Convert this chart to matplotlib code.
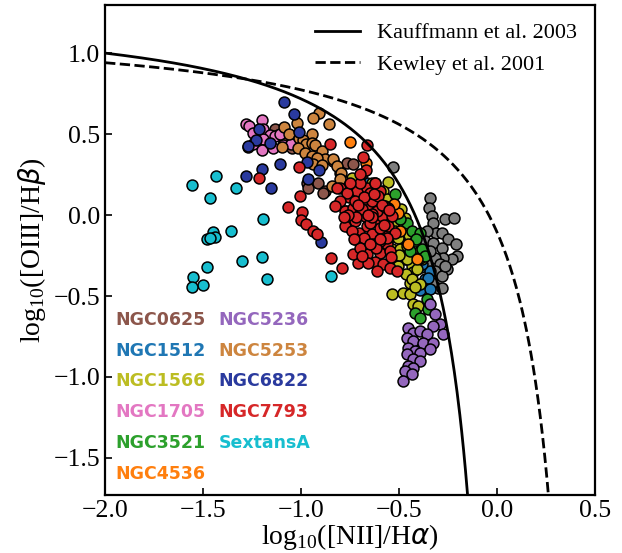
import numpy as np
import matplotlib
matplotlib.use("Agg")
import matplotlib.pyplot as plt

plt.rcParams['font.family'] = ['Liberation Serif', 'DejaVu Serif']
plt.rcParams['mathtext.fontset'] = 'custom'
plt.rcParams['mathtext.rm'] = 'Liberation Serif'
plt.rcParams['mathtext.it'] = 'DejaVu Sans:italic'

# ---- data (log10 [NII]/Ha, log10 [OIII]/Hb) ----
ngc0625_x = [-1.133, -1.082, -1.046, -0.969, -0.964, -0.913, -0.878, -0.801, -0.765, -0.735, -0.837, -0.888]
ngc0625_y = [0.536, 0.449, 0.418, 0.202, 0.171, 0.202, 0.152, 0.264, 0.325, 0.319, 0.338, 0.140]

ngc1512_x = [-0.663, -0.485, -0.388, -0.342, -0.367, -0.393, -0.383, -0.352, -0.342, -0.418]
ngc1512_y = [0.196, -0.139, -0.318, -0.343, -0.392, -0.460, -0.299, -0.386, -0.454, -0.269]

ngc1566_x = [-0.740, -0.556, -0.638, -0.587, -0.633, -0.587, -0.546, -0.556, -0.505, -0.536,
             -0.495, -0.454, -0.393, -0.418, -0.531, -0.469, -0.383, -0.434, -0.602, -0.541,
             -0.510, -0.480, -0.459, -0.505, -0.459, -0.429, -0.444, -0.500, -0.464, -0.434,
             -0.393, -0.536, -0.480, -0.444, -0.429, -0.403, -0.418, -0.582, -0.582, -0.393,
             -0.470, -0.520, -0.560, -0.450, -0.490, -0.410]
ngc1566_y = [0.233, 0.208, 0.196, 0.140, 0.078, 0.022, -0.046, -0.145, -0.139, -0.207,
             -0.207, -0.170, -0.219, -0.262, -0.281, -0.269, -0.269, -0.312, 0.072, -0.015,
             -0.052, -0.077, -0.188, -0.312, -0.274, -0.349, -0.417, -0.244, -0.361, -0.392,
             -0.423, -0.485, -0.479, -0.485, -0.547, -0.560, -0.442, 0.152, 0.028, -0.262,
             -0.020, -0.100, 0.100, -0.120, 0.040, -0.330]

ngc1705_x = [-1.199, -1.281, -1.265, -1.245, -1.194, -1.158, -1.117, -1.194, -1.270, -1.245,
             -1.199, -1.143, -1.092, -1.051, -1.133, -1.107]
ngc1705_y = [0.591, 0.561, 0.549, 0.511, 0.530, 0.499, 0.499, 0.474, 0.424, 0.443,
             0.406, 0.418, 0.431, 0.443, 0.492, 0.505]

ngc3521_x = [-0.520, -0.459, -0.434, -0.418, -0.393, -0.383, -0.444, -0.495, -0.413, -0.357,
             -0.352, -0.418, -0.393, -0.367]
ngc3521_y = [0.134, -0.046, -0.095, -0.157, -0.108, -0.207, -0.219, -0.021, -0.145, -0.517,
             -0.578, -0.603, -0.634, -0.250]

ngc4536_x = [-0.750, -0.668, -0.750, -0.505, -0.525, -0.495, -0.454, -0.408, -0.740]
ngc4536_y = [0.455, 0.325, -0.077, 0.016, 0.072, -0.095, -0.176, -0.269, 0.165]

ngc5236_x = [-0.342, -0.316, -0.291, -0.327, -0.454, -0.429, -0.393, -0.357, -0.459, -0.429,
             -0.378, -0.327, -0.454, -0.418, -0.393, -0.342, -0.459, -0.429, -0.393, -0.454,
             -0.429, -0.469, -0.434, -0.480, -0.276]
ngc5236_y = [-0.548, -0.610, -0.672, -0.684, -0.696, -0.727, -0.715, -0.733, -0.757, -0.776,
             -0.789, -0.789, -0.820, -0.839, -0.851, -0.826, -0.858, -0.889, -0.900, -0.930,
             -0.943, -0.962, -0.981, -1.024, -0.733]

ngc5253_x = [-0.908, -0.939, -0.857, -1.020, -1.087, -1.061, -1.010, -0.944, -0.990, -0.974,
             -0.944, -1.015, -0.929, -1.097, -0.980, -0.944, -0.893, -0.878, -0.837, -0.918,
             -0.939, -0.893, -0.816, -0.796, -0.786, -0.842, -0.801]
ngc5253_y = [0.629, 0.598, 0.567, 0.573, 0.548, 0.505, 0.480, 0.505, 0.468, 0.443,
             0.449, 0.418, 0.431, 0.424, 0.387, 0.369, 0.400, 0.350, 0.350, 0.356,
             0.319, 0.313, 0.307, 0.264, 0.214, 0.183, 0.226]

ngc6822_x = [-1.087, -1.036, -1.214, -1.230, -1.158, -1.270, -1.010, -1.107, -1.199, -1.281,
             -1.153, -0.969, -0.908, -0.964, -0.658, -0.556, -0.898]
ngc6822_y = [0.697, 0.623, 0.530, 0.462, 0.449, 0.425, 0.517, 0.319, 0.288, 0.245,
             0.171, 0.332, 0.282, 0.226, 0.152, 0.047, -0.163]

ngc7793_x = [-1.214, -1.010, -1.005, -1.066, -0.995, -1.000, -0.974, -0.939, -0.918, -0.847,
             -0.791, -0.770, -0.801, -0.755, -0.714, -0.663, -0.622, -0.597, -0.776, -0.735,
             -0.699, -0.663, -0.750, -0.704, -0.663, -0.638, -0.612, -0.587, -0.673, -0.633,
             -0.597, -0.622, -0.663, -0.561, -0.571, -0.556, -0.689, -0.638, -0.612, -0.582,
             -0.546, -0.612, -0.709, -0.510, -0.638, -0.735, -0.684, -0.689, -0.663, -0.622,
             -0.816, -0.765, -0.699, -0.852, -0.668, -0.699, -0.724, -0.673, -0.648, -0.724,
             -0.776, -0.597, -0.546, -0.658, -0.571, -0.536, -0.520, -0.801, -0.827, -0.724,
             -0.648, -0.750,
             -0.690, -0.640, -0.600, -0.560, -0.720, -0.680, -0.620, -0.580, -0.540, -0.700,
             -0.650, -0.610, -0.570, -0.760, -0.740, -0.680, -0.630, -0.590, -0.550, -0.710,
             -0.660, -0.600, -0.780, -0.730, -0.690]
ngc7793_y = [0.233, 0.295, 0.121, 0.053, 0.022, -0.028, -0.052, -0.095, -0.114, -0.263,
             -0.324, 0.028, 0.171, 0.115, 0.152, 0.171, 0.196, 0.152, 0.028, 0.047,
             0.010, 0.059, -0.046, -0.108, -0.064, -0.114, -0.033, -0.002, -0.176, -0.176,
             -0.231, -0.287, -0.238, -0.176, -0.114, -0.064, 0.090, 0.090, 0.028, -0.299,
             -0.324, -0.343, -0.293, -0.343, 0.010, -0.238, 0.357, 0.257, 0.431, 0.202,
             0.171, 0.140, 0.202, 0.443, 0.282, 0.257, -0.033, -0.002, -0.046, -0.145,
             -0.064, -0.157, -0.219, -0.293, 0.059, -0.002, -0.108, 0.090, 0.059, 0.090,
             0.140, 0.196,
             0.040, -0.010, -0.080, -0.140, -0.010, -0.140, -0.200, -0.060, -0.260, -0.200,
             -0.180, 0.120, 0.050, 0.000, -0.100, 0.110, 0.130, 0.060, 0.030, 0.060,
             0.000, -0.150, -0.010, -0.150, -0.250]

sextansa_x = [-1.556, -1.434, -1.464, -1.332, -1.194, -1.357, -1.449, -1.480, -1.439, -1.464,
              -1.301, -1.199, -1.480, -1.551, -1.500, -1.556, -1.173, -0.847]
sextansa_y = [0.189, 0.245, 0.109, 0.171, -0.021, -0.095, -0.101, -0.145, -0.132, -0.139,
              -0.281, -0.256, -0.318, -0.380, -0.429, -0.442, -0.392, -0.374]

other_x = [-0.531, -0.342, -0.347, -0.332, -0.327, -0.265, -0.219, -0.311, -0.281, -0.250,
           -0.209, -0.357, -0.367, -0.327, -0.281, -0.204, -0.230, -0.276, -0.316, -0.342,
           -0.291, -0.255, -0.316, -0.357, -0.281, -0.265, -0.301, -0.332, -0.281]
other_y = [0.301, 0.109, 0.047, -0.002, -0.046, -0.021, -0.015, -0.108, -0.108, -0.145,
           -0.176, -0.095, -0.157, -0.170, -0.201, -0.250, -0.269, -0.262, -0.262, -0.219,
           -0.299, -0.330, -0.343, -0.299, -0.374, -0.312, -0.448, -0.417, -0.448]

names = ['NGC0625', 'NGC1512', 'NGC1566', 'NGC1705', 'NGC3521', 'NGC4536',
         'NGC5236', 'NGC5253', 'NGC6822', 'NGC7793', 'SextansA']
colors = ['#8c564b', '#1f77b4', '#bcbd22', '#e377c2', '#2ca02c', '#ff7f0e',
          '#9467bd', '#cd853f', '#2a3a9e', '#d62728', '#17becf']
xs = [ngc0625_x, ngc1512_x, ngc1566_x, ngc1705_x, ngc3521_x, ngc4536_x,
      ngc5236_x, ngc5253_x, ngc6822_x, ngc7793_x, sextansa_x]
ys = [ngc0625_y, ngc1512_y, ngc1566_y, ngc1705_y, ngc3521_y, ngc4536_y,
      ngc5236_y, ngc5253_y, ngc6822_y, ngc7793_y, sextansa_y]

# demarcation line coefficients
kauff_a, kauff_b, kauff_c = 0.61, 0.05, 1.3
kew_a, kew_b, kew_c = 0.61, 0.47, 1.19

fig = plt.figure(figsize=(6.22, 5.53), dpi=100)
ax = fig.add_axes([0.169, 0.105, 0.788, 0.886])

ax.scatter(other_x, other_y, s=62, c='#7f7f7f', edgecolors='black', linewidths=1.1, zorder=2)
for x, y, c in zip(xs, ys, colors):
    ax.scatter(x, y, s=62, c=c, edgecolors='black', linewidths=1.1, zorder=2)

xk = np.linspace(-2.0, -0.1, 400)
ax.plot(xk, kauff_a / (xk - kauff_b) + kauff_c, 'k-', lw=2, label='Kauffmann et al. 2003', zorder=3)
xw = np.linspace(-2.0, 0.3, 400)
ax.plot(xw, kew_a / (xw - kew_b) + kew_c, 'k--', lw=2, label='Kewley et al. 2001', zorder=3)

ax.set_xlim(-2.0, 0.5)
ax.set_ylim(-1.73, 1.3)
ax.set_xticks([-2.0, -1.5, -1.0, -0.5, 0.0, 0.5])
ax.set_yticks([-1.5, -1.0, -0.5, 0.0, 0.5, 1.0])
ax.tick_params(direction='in', length=5, width=1.2, labelsize=18.5)
for sp in ax.spines.values():
    sp.set_linewidth(1.6)

ax.set_xlabel(r'log$_{10}$([NII]/H$\alpha$)', fontsize=20, labelpad=0)
ax.set_ylabel(r'log$_{10}$([OIII]/H$\beta$)', fontsize=20, labelpad=4)

ax.legend(loc='upper right', frameon=False, fontsize=16, handlelength=2.0,
          borderaxespad=0.4)

col1_x, col2_x = -1.95, -1.42
rows_y = [-0.646, -0.838, -1.023, -1.215, -1.407, -1.599]
for i, (n, c) in enumerate(zip(names, colors)):
    if i < 6:
        tx, ty = col1_x, rows_y[i]
    else:
        tx, ty = col2_x, rows_y[i - 6]
    ax.text(tx, ty, n, color=c, fontsize=12.5, fontweight='bold',
            family='DejaVu Sans', va='center', ha='left')

fig.savefig('out.png', dpi=100)
